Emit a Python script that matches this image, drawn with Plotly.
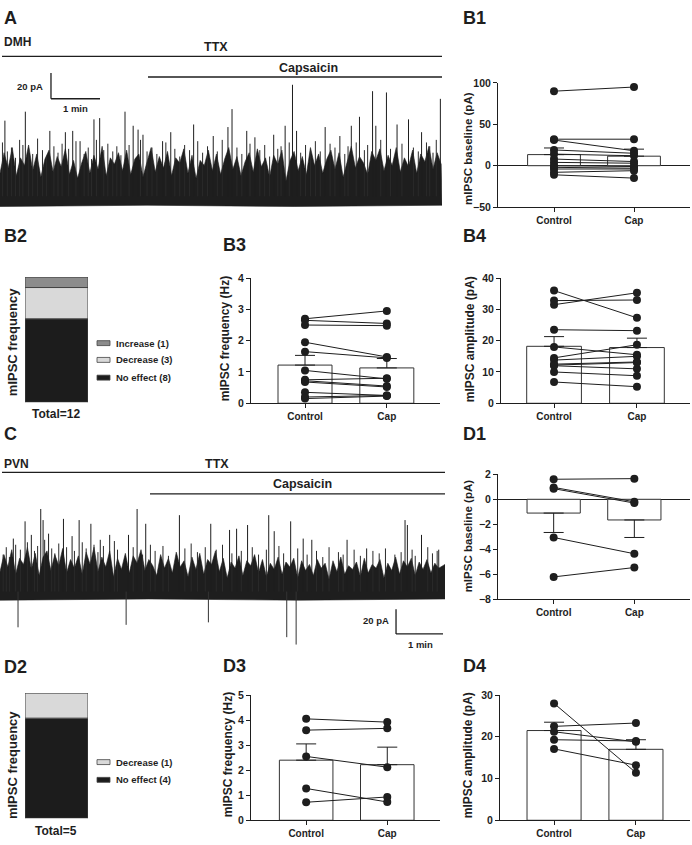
import plotly.graph_objects as go

W, H = 692, 845
def PX(x): return x / W
def PY(y): return 1 - y / H

FONT = "Liberation Sans, Arial, Helvetica, sans-serif"
INK = "#1e1e1e"

# ---------------- data ----------------
# Trace A (DMH): time (s), current above baseline (pA)
a_core_t = [0, 5, 10, 15, 20, 25, 30, 35, 40, 45, 50, 55, 60, 65, 70, 75, 80, 85, 90, 95,
            100, 105, 110, 115, 120, 125, 130, 135, 140, 145, 150, 155, 160, 165, 170, 175, 180, 185, 190, 195,
            200, 205, 210, 215, 220, 225, 230, 235, 240, 245, 250, 255, 260, 265, 270, 275, 280, 285, 290, 295,
            300, 305, 310, 315, 320, 325, 330, 335, 340, 345, 350, 355, 360, 365, 370, 375, 380, 385, 390, 395,
            400, 405, 410, 415, 420, 425, 430, 435, 440, 445, 450, 455, 460, 465, 470, 475, 480, 485, 490, 495,
            500, 505, 510, 515, 520, 525, 530, 535, 540]
a_core_amp = [18, 34, 22, 38, 16, 30, 24, 40, 20, 33, 15, 29, 36, 19, 31, 23, 37, 17, 28, 14,
              26, 35, 18, 32, 21, 39, 16, 30, 25, 34, 20, 36, 17, 29, 33, 15, 27, 38, 19, 31,
              22, 35, 16, 30, 26, 37, 18, 32, 14, 28, 24, 36, 20, 33, 17, 29, 38, 21, 31, 16,
              27, 34, 19, 37, 23, 30, 15, 32, 25, 36, 12, 28, 35, 20, 31, 17, 38, 24, 33, 18,
              29, 36, 21, 34, 15, 27, 39, 22, 31, 26, 17, 35, 28, 37, 20, 32, 24, 38, 19, 30,
              23, 36, 18, 33, 27, 39, 21, 34, 25]
a_floor_t = [0, 180, 360, 541]
a_floor_amp = [-8, -7, -8, -7]
a_mid_t = [3, 9, 14, 19, 24, 28, 35, 40, 46, 52, 57, 66, 71, 76, 84, 93, 103, 108, 112, 118,
           127, 132, 138, 143, 148, 158, 172, 180, 186, 192, 203, 214, 220, 226, 232, 242, 248, 254, 266, 272,
           290, 296, 306, 318, 324, 330, 340, 344, 354, 368, 374, 380, 386, 392, 404, 410, 422, 426, 436, 446,
           450, 466, 478, 492, 506, 512, 522, 526, 534]
a_mid_amp = [42, 35, 38, 30, 44, 40, 37, 33, 45, 36, 31, 39, 34, 41, 37, 43, 33, 38, 29, 44,
             36, 41, 35, 39, 32, 40, 44, 35, 38, 33, 42, 37, 31, 40, 36, 43, 34, 39, 35, 44,
             38, 33, 41, 36, 40, 31, 37, 39, 42, 34, 40, 36, 43, 35, 41, 38, 33, 39, 42, 36,
             40, 44, 37, 41, 38, 35, 42, 39, 44]
a_tall_t = [6, 31, 61, 80, 89, 98, 115, 122, 153, 163, 169, 175, 199, 209, 237, 261, 279, 284, 302, 312,
            335, 349, 358, 363, 398, 416, 430, 440, 456, 460, 473, 486, 500, 516, 530, 539]
a_tall_amp = [59, 66, 51, 50, 51, 43, 60, 61, 66, 55, 52, 48, 43, 50, 56, 47, 54, 68, 51, 46,
              48, 55, 87, 51, 54, 47, 55, 62, 82, 55, 81, 56, 60, 50, 34, 76]

# Trace C (PVN)
c_core_t = [0, 5, 10, 15, 20, 25, 30, 35, 40, 45, 50, 55, 60, 65, 70, 75, 80, 85, 90, 95,
            100, 105, 110, 115, 120, 125, 130, 135, 140, 145, 150, 155, 160, 165, 170, 175, 180, 185, 190, 195,
            200, 205, 210, 215, 220, 225, 230, 235, 240, 245, 250, 255, 260, 265, 270, 275, 280, 285, 290, 295,
            300, 305, 310, 315, 320, 325, 330, 335, 340, 345, 350, 355, 360, 365, 370, 375, 380, 385, 390, 395,
            400, 405, 410, 415, 420, 425, 430, 435, 440, 445, 450, 455, 460, 465, 470, 475, 480, 485, 490, 495,
            500, 505, 510, 515, 520, 525, 530, 535, 540, 545, 550, 555, 560, 568]
c_core_amp = [16, 30, 20, 34, 14, 27, 22, 36, 18, 31, 13, 28, 33, 17, 30, 21, 35, 15, 26, 19,
              29, 14, 32, 22, 36, 16, 28, 20, 33, 12, 27, 18, 31, 15, 29, 23, 34, 17, 26, 21,
              13, 30, 19, 27, 15, 32, 20, 25, 12, 28, 18, 31, 14, 26, 22, 33, 16, 27, 11, 24,
              19, 29, 13, 25, 21, 30, 15, 26, 12, 23, 18, 28, 14, 24, 20, 27, 11, 25, 17, 22,
              13, 26, 19, 23, 10, 25, 16, 28, 14, 21, 18, 24, 12, 27, 15, 22, 19, 26, 11, 23,
              17, 28, 14, 25, 20, 27, 13, 24, 18, 26, 15, 23, 19, 22]
c_floor_t = [0, 190, 380, 568]
c_floor_amp = [-7, -6, -7, -6]
c_mid_t = [4, 8, 12, 20, 26, 35, 44, 48, 57, 66, 70, 75, 85, 95, 105, 110, 120, 125, 132, 146,
           150, 170, 182, 192, 198, 208, 215, 236, 244, 252, 262, 276, 284, 296, 308, 322, 330, 340, 356, 362,
           380, 392, 404, 412, 420, 432, 438, 452, 460, 476, 484, 492, 504, 512, 526, 530, 546, 552, 558]
c_mid_amp = [30, 36, 28, 38, 34, 40, 33, 37, 42, 35, 31, 39, 36, 33, 40, 35, 38, 32, 37, 41,
             34, 36, 30, 38, 33, 37, 29, 35, 39, 32, 36, 34, 38, 31, 33, 36, 30, 34, 37, 31,
             35, 30, 33, 28, 36, 32, 30, 34, 29, 33, 31, 35, 30, 32, 34, 29, 36, 31, 33]
c_tall_t = [17, 32, 40, 52, 55, 62, 81, 92, 101, 116, 128, 140, 164, 175, 186, 229, 269, 293, 302, 316,
            343, 350, 371, 387, 398, 443, 468, 517, 520, 538, 560]
c_tall_amp = [43, 57, 46, 67, 58, 47, 59, 45, 58, 55, 42, 46, 46, 67, 55, 62, 55, 50, 51, 54,
              62, 49, 57, 43, 42, 42, 35, 58, 54, 46, 34]
c_down_t = [23, 161, 266, 366, 378]
c_down_amp = [-29, -27, -25, -37, -43]

categories = ["Control", "Cap"]

b1_ctrl = [90, 32, 31, 19, 14, 8, 4, 0, -2, -4, -8, -11]
b1_cap = [95, 32, 18, 15, 12, 5, 3, -1, -3, -4, -6, -15]
b1_mean = [13.4, 11.5]
b1_sem = [8.0, 8.5]

b2_labels = ["No effect", "Decrease", "Increase"]
b2_counts = [8, 3, 1]

b3_ctrl = [2.7, 2.65, 2.5, 1.95, 1.65, 1.05, 0.75, 0.72, 0.68, 0.35, 0.2, 0.15]
b3_cap = [2.95, 2.55, 2.48, 1.48, 1.45, 0.78, 0.8, 0.55, 0.52, 0.25, 0.25, 0.23]
b3_mean = [1.22, 1.13]
b3_sem = [0.31, 0.30]

b4_ctrl = [36, 32.8, 31.5, 23.5, 18, 14.5, 13.8, 12.5, 12.2, 12, 10, 6.8]
b4_cap = [27.3, 33, 35.3, 23.2, 15.5, 18.7, 15, 13.2, 13, 11, 8.8, 5.3]
b4_mean = [18.2, 17.8]
b4_sem = [3.1, 3.0]

d1_ctrl = [1.6, 0.95, 0.85, -3.05, -6.2]
d1_cap = [1.65, -0.2, -0.3, -4.35, -5.45]
d1_mean = [-1.1, -1.65]
d1_sem = [1.55, 1.4]

d2_labels = ["No effect", "Decrease"]
d2_counts = [4, 1]

d3_ctrl = [4.05, 3.6, 2.55, 1.27, 0.72]
d3_cap = [3.92, 3.67, 2.12, 0.73, 0.93]
d3_mean = [2.4, 2.22]
d3_sem = [0.65, 0.70]

d4_ctrl = [28, 22.5, 21.2, 19.3, 17.1]
d4_cap = [11.4, 23.3, 18.8, 19.0, 13.2]
d4_mean = [21.5, 17.0]
d4_sem = [2.0, 2.3]

# ---------------- figure ----------------
fig = go.Figure()
layout = {}
shapes = []
annotations = []

def ax_keys(i):
    return ("xaxis" if i == 1 else f"xaxis{i}", "yaxis" if i == 1 else f"yaxis{i}",
            "x" if i == 1 else f"x{i}", "y" if i == 1 else f"y{i}")

def ann(text, x, y, size, anchor="left", angle=0, weight="bold"):
    annotations.append(dict(text=text, x=PX(x), y=PY(y), xref="paper", yref="paper",
                            xanchor=anchor, yanchor="middle", showarrow=False, textangle=angle,
                            font=dict(family=FONT, size=size, color=INK, weight=weight)))

def pline(x0, y0, x1, y1, w=1.3):
    shapes.append(dict(type="line", xref="paper", yref="paper", x0=PX(x0), y0=PY(y0),
                       x1=PX(x1), y1=PY(y1), line=dict(color=INK, width=w)))

def spikes(ts, amps, base=0):
    xs, ys = [], []
    for t, a in zip(ts, amps):
        xs += [t, t, None]
        ys += [base, a, None]
    return xs, ys

def trace_panel(i, xpx, ypx, base_px, pa_per_px, t_end, core_t, core_amp, floor_t, floor_amp,
                mid_t, mid_amp, tall_t, tall_amp, down_t=None, down_amp=None, bar_t0=0, bar_a0=0):
    xk, yk, xr, yr = ax_keys(i)
    yrange = [(base_px - ypx[1]) * pa_per_px, (base_px - ypx[0]) * pa_per_px]
    layout[xk] = dict(domain=[PX(xpx[0]), PX(xpx[1])], range=[0, t_end], visible=False,
                      anchor=yr, fixedrange=True)
    layout[yk] = dict(domain=[PY(ypx[1]), PY(ypx[0])], range=yrange, visible=False,
                      anchor=xr, fixedrange=True)
    fig.add_trace(go.Scatter(x=core_t + floor_t[::-1], y=core_amp + floor_amp[::-1], fill="toself",
                             fillcolor=INK, line=dict(color=INK, width=0.6), mode="lines",
                             xaxis=xr, yaxis=yr, hoverinfo="skip", showlegend=False))
    mx, my = spikes(mid_t, mid_amp)
    fig.add_trace(go.Scatter(x=mx, y=my, mode="lines", line=dict(color="#2a2a2a", width=1),
                             xaxis=xr, yaxis=yr, hoverinfo="skip", showlegend=False))
    tx, ty = spikes(tall_t, tall_amp)
    fig.add_trace(go.Scatter(x=tx, y=ty, mode="lines", line=dict(color=INK, width=1),
                             xaxis=xr, yaxis=yr, hoverinfo="skip", showlegend=False))
    if down_t:
        dx, dy = spikes(down_t, down_amp)
        fig.add_trace(go.Scatter(x=dx, y=dy, mode="lines", line=dict(color="#333", width=1),
                                 xaxis=xr, yaxis=yr, hoverinfo="skip", showlegend=False))
    # scale bar: 20 pA and 1 min
    shapes.append(dict(type="line", xref=xr, yref=yr, x0=bar_t0, y0=bar_a0, x1=bar_t0, y1=bar_a0 + 20,
                       line=dict(color=INK, width=1.3)))
    shapes.append(dict(type="line", xref=xr, yref=yr, x0=bar_t0, y0=bar_a0, x1=bar_t0 + 60, y1=bar_a0,
                       line=dict(color=INK, width=1.3)))

TICKFONT = dict(family=FONT, size=10, color=INK, weight="bold")

def bar_panel(i, xpx, ypx, xrange, yrange, ticks, ctrl, cap, mean, sem, zero=False, down=False):
    xk, yk, xr, yr = ax_keys(i)
    layout[xk] = dict(domain=[PX(xpx[0]), PX(xpx[1])], range=xrange, anchor=yr,
                      tickvals=[0, 1], ticktext=categories, showline=True, linecolor=INK,
                      linewidth=1, ticks="outside", ticklen=4, tickcolor=INK, showgrid=False,
                      zeroline=False, fixedrange=True, tickfont=TICKFONT)
    layout[yk] = dict(domain=[PY(ypx[1]), PY(ypx[0])], range=yrange, anchor=xr, tickvals=ticks,
                      showline=True, linecolor=INK, linewidth=1, ticks="outside", ticklen=4,
                      tickcolor=INK, showgrid=False, zeroline=zero, zerolinecolor=INK,
                      zerolinewidth=1, fixedrange=True,
                      tickfont=dict(family=FONT, size=10.5, color=INK, weight="bold"))
    up = [0, 0] if down else sem
    dn = sem if down else [0, 0]
    fig.add_trace(go.Bar(x=[0, 1], y=mean, width=0.66, xaxis=xr, yaxis=yr,
                         marker=dict(color="white", line=dict(color="#333", width=1)),
                         error_y=dict(type="data", symmetric=False, array=up, arrayminus=dn,
                                      color=INK, thickness=1, width=10),
                         hoverinfo="skip", showlegend=False))
    xs, ys = [], []
    for c, p in zip(ctrl, cap):
        xs += [0, 1, None]
        ys += [c, p, None]
    fig.add_trace(go.Scatter(x=xs, y=ys, mode="lines+markers", xaxis=xr, yaxis=yr,
                             line=dict(color=INK, width=1), marker=dict(size=8, color=INK),
                             hoverinfo="skip", showlegend=False))

COLORS = {"No effect": "#1c1c1c", "Decrease": "#d9d9d9", "Increase": "#8c8c8c"}

def stack_panel(i, xpx, ypx, labels, counts, legend_y, total_y):
    xk, yk, xr, yr = ax_keys(i)
    total = sum(counts)
    layout[xk] = dict(domain=[PX(xpx[0]), PX(xpx[1])], range=[-0.5, 0.5], visible=False,
                      anchor=yr, fixedrange=True)
    layout[yk] = dict(domain=[PY(ypx[1]), PY(ypx[0])], range=[0, total], visible=False,
                      anchor=xr, fixedrange=True)
    base = 0
    for lab, n in zip(labels, counts):
        fig.add_trace(go.Bar(x=[0], y=[n], base=[base], width=1, xaxis=xr, yaxis=yr,
                             marker=dict(color=COLORS[lab], line=dict(color="#444", width=1)),
                             hoverinfo="skip", showlegend=False))
        base += n
    for k, (lab, n) in enumerate(zip(labels[::-1], counts[::-1])):
        yy = legend_y[k]
        shapes.append(dict(type="rect", xref="paper", yref="paper", x0=PX(97), x1=PX(110),
                           y0=PY(yy + 2.5), y1=PY(yy - 2.5), fillcolor=COLORS[lab],
                           line=dict(color="#444", width=0.8)))
        ann(f"{lab} ({n})", 114, yy, 9.5)
    ann(f"Total={total}", 56, total_y, 12, anchor="center")

# Panel A trace
trace_panel(1, (0, 442), (60, 215), 193, 20 / 26, 541, a_core_t, a_core_amp, a_floor_t, a_floor_amp,
            a_mid_t, a_mid_amp, a_tall_t, a_tall_amp, bar_t0=62.4, bar_a0=76.1)
# Panel C trace
trace_panel(6, (0, 445), (500, 650), 594, 0.8, 568, c_core_t, c_core_amp, c_floor_t, c_floor_amp,
            c_mid_t, c_mid_amp, c_tall_t, c_tall_amp, c_down_t, c_down_amp, bar_t0=505.5, bar_a0=-34.4)

bar_panel(2, (498, 690), (78, 204), [-0.7, 1.7], [-50, 100], [-50, 0, 50, 100],
          b1_ctrl, b1_cap, b1_mean, b1_sem, zero=True)
bar_panel(4, (251, 440), (276, 403), [-0.66, 1.65], [0, 4], [0, 1, 2, 3, 4],
          b3_ctrl, b3_cap, b3_mean, b3_sem)
bar_panel(5, (501, 690), (276, 403), [-0.64, 1.64], [0, 40], [0, 10, 20, 30, 40],
          b4_ctrl, b4_cap, b4_mean, b4_sem)
bar_panel(7, (498, 690), (475, 602), [-0.69, 1.69], [-8, 2], [-8, -6, -4, -2, 0, 2],
          d1_ctrl, d1_cap, d1_mean, d1_sem, zero=True, down=True)
bar_panel(9, (251, 440), (699, 826), [-0.68, 1.65], [0, 5], [0, 1, 2, 3, 4, 5],
          d3_ctrl, d3_cap, d3_mean, d3_sem)
bar_panel(10, (500, 690), (699, 826), [-0.66, 1.66], [0, 30], [0, 10, 20, 30],
          d4_ctrl, d4_cap, d4_mean, d4_sem)

stack_panel(3, (25, 88), (275, 402), b2_labels, b2_counts, [342, 359, 377], 414)
stack_panel(8, (25, 88), (697, 824), d2_labels, d2_counts, [767, 785], 837)

# panel letters
for txt, x, y in [("A", 2, 12), ("B1", 461, 12), ("B2", 2, 233), ("B3", 221, 242), ("B4", 461, 233),
                  ("C", 2, 434), ("D1", 461, 434), ("D2", 2, 671), ("D3", 221, 670), ("D4", 461, 670)]:
    ann(txt, x, y, 18)

# trace labels
ann("DMH", 2, 37, 12)
ann("TTX", 216, 42, 12.5, anchor="center")
ann("Capsaicin", 308, 63, 12.5, anchor="center")
ann("20 pA", 30, 82, 9.5, anchor="center")
ann("1 min", 75, 104, 9.5, anchor="center")
pline(2, 51, 442, 51)
pline(148, 72, 442, 72)

ann("PVN", 2, 465, 12)
ann("TTX", 217, 465, 12.5, anchor="center")
ann("Capsaicin", 302, 485, 12.5, anchor="center")
ann("20 pA", 376, 623, 9.5, anchor="center")
ann("1 min", 420, 648, 9.5, anchor="center")
pline(2, 473, 445, 473)
pline(150, 495, 445, 495)

# y-axis titles
ann("mIPSC baseline (pA)", 468, 145, 11.5, anchor="center", angle=-90)
ann("mIPSC frequency (Hz)", 225, 338, 12, anchor="center", angle=-90)
ann("mIPSC amplitude (pA)", 470, 338, 12, anchor="center", angle=-90)
ann("mIPSC baseline (pA)", 468, 538, 11.5, anchor="center", angle=-90)
ann("mIPSC frequency (Hz)", 228, 760, 12, anchor="center", angle=-90)
ann("mIPSC amplitude (pA)", 468, 760, 12, anchor="center", angle=-90)
ann("mIPSC frequency", 12, 341, 13, anchor="center", angle=-90)
ann("mIPSC frequency", 12, 770, 13, anchor="center", angle=-90)

fig.update_layout(width=W, height=H, autosize=False, margin=dict(l=0, r=0, t=0, b=0),
                  paper_bgcolor="white", plot_bgcolor="white", barmode="overlay",
                  showlegend=False, shapes=shapes, annotations=annotations, hovermode=False,
                  font=dict(family=FONT, color=INK), **layout)

fig.write_html("out.html", config={"displayModeBar": False, "staticPlot": True},
               post_script="document.body.style.margin='0';")
